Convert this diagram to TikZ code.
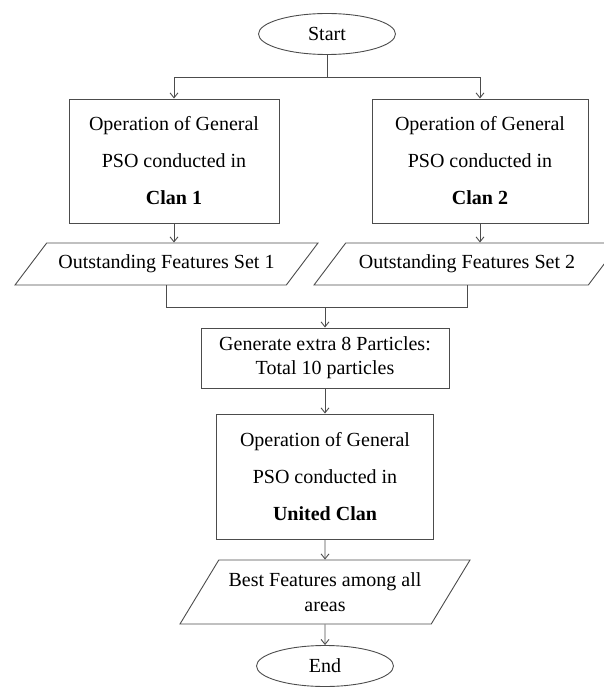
\documentclass[tikz,border=0pt]{standalone}
\usepackage{fontspec}
\setmainfont{Liberation Serif}
\usetikzlibrary{shapes,arrows.meta,calc}

\begin{document}
\begin{tikzpicture}[x=1pt,y=-1pt,->,>={Straight Barb[length=5pt,width=8pt]},line width=0.9pt,
    wire/.style={draw=black!70},
    term node/.style={ellipse,draw=black!70,minimum width=137pt,minimum height=41pt,inner sep=0pt,font=\fontsize{20}{24}\selectfont},
    clan node/.style={rectangle,draw=black!70,align=center,inner sep=0pt,font=\fontsize{20}{37}\selectfont},
    data node/.style={trapezium,draw=black!70,trapezium stretches body,align=center,inner sep=2pt,font=\fontsize{20}{25}\selectfont}]

    \useasboundingbox (0,0) rectangle (604,687);

    \node[term node] (start) at (327,34) {Start};
    \node[clan node,minimum width=210pt,minimum height=124pt] (clan1) at (174,161) {Operation of General\\PSO conducted in\\\textbf{Clan 1}};
    \node[clan node,minimum width=216pt,minimum height=124pt] (clan2) at (480,161) {Operation of General\\PSO conducted in\\\textbf{Clan 2}};
    \node[data node,trapezium left angle=35,trapezium right angle=145,minimum width=303pt,minimum height=42pt] (set1) at (166.5,264) {Outstanding Features Set 1};
    \node[data node,trapezium left angle=35,trapezium right angle=145,minimum width=306pt,minimum height=42pt] (set2) at (467,264) {Outstanding Features Set 2};
    \node[clan node,minimum width=248pt,minimum height=60pt,font=\fontsize{20}{24}\selectfont] (extra) at (325,358) {Generate extra 8 Particles:\\Total 10 particles};
    \node[clan node,minimum width=217pt,minimum height=125pt] (united) at (325,476.5) {Operation of General\\PSO conducted in\\\textbf{United Clan}};
    \node[data node,trapezium left angle=48,trapezium right angle=132,minimum width=290pt,minimum height=64pt] (best) at (325,592) {Best Features among all\\areas};
    \node[term node] (end) at (325,666) {End};

    \coordinate (split) at (327,77);
    \coordinate (merge) at (325,307);

    % split into the two clans
    \draw[wire,-] (start) -- (split);
    \draw[wire] (split) -| (clan1);
    \draw[wire] (split) -| (clan2);

    % merge the two feature sets
    \draw[wire,-] (set1) |- (merge);
    \draw[wire,-] (set2) |- (merge);

    \path[every edge/.style={wire}]
        (clan1) edge (clan1 |- set1.north)
        (clan2) edge (clan2 |- set2.north)
        (merge) edge (extra)
        (extra) edge (united)
        (united) edge (best)
        (best) edge (end)
    ;
\end{tikzpicture}
\end{document}
